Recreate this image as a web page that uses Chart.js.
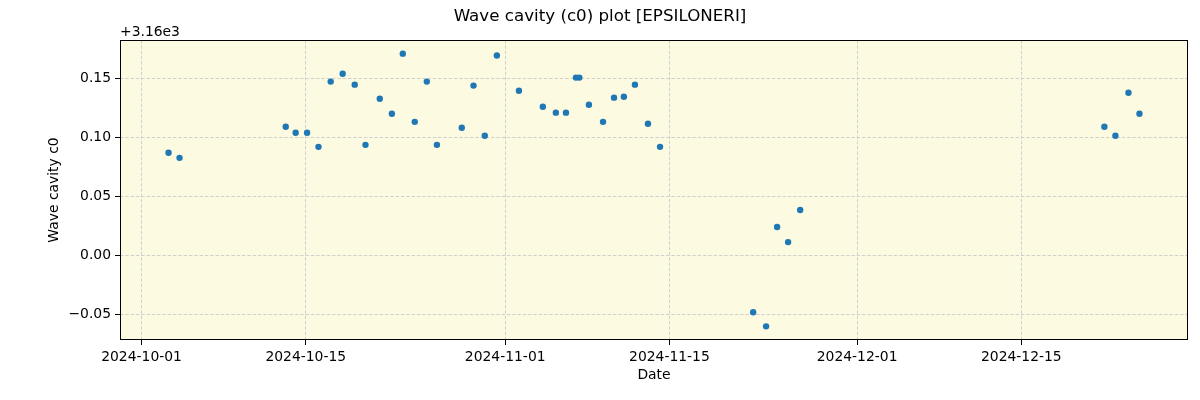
<!DOCTYPE html>
<html>
<head>
<meta charset="utf-8">
<script src="https://cdn.jsdelivr.net/npm/chart.js@4"></script>
<style>
  html, body { margin: 0; padding: 0; background: #fff; }
  #wrap { width: 1200px; height: 400px; }
</style>
</head>
<body>
<div id="wrap"><canvas id="c0Chart" width="1200" height="400"></canvas></div>
<script>
// observation times (UTC) and c0 values, shown as offset from 3.16e3
const obsDates = [
  "2024-10-03T07:15Z", "2024-10-04T05:45Z", "2024-10-13T07:00Z", "2024-10-14T03:20Z",
  "2024-10-15T02:40Z", "2024-10-16T02:00Z", "2024-10-17T03:00Z", "2024-10-18T03:30Z",
  "2024-10-19T04:10Z", "2024-10-20T02:10Z", "2024-10-21T07:25Z", "2024-10-22T08:10Z",
  "2024-10-23T06:30Z", "2024-10-24T07:00Z", "2024-10-25T07:40Z", "2024-10-26T04:20Z",
  "2024-10-28T07:10Z", "2024-10-29T07:10Z", "2024-10-30T06:15Z", "2024-10-31T07:00Z",
  "2024-11-02T04:05Z", "2024-11-04T05:00Z", "2024-11-05T07:40Z", "2024-11-06T04:20Z",
  "2024-11-07T00:45Z", "2024-11-07T07:40Z", "2024-11-08T03:20Z", "2024-11-09T08:10Z",
  "2024-11-10T06:40Z", "2024-11-11T02:50Z", "2024-11-12T01:25Z", "2024-11-13T04:05Z",
  "2024-11-14T04:50Z", "2024-11-22T03:20Z", "2024-11-23T05:45Z", "2024-11-24T04:20Z",
  "2024-11-25T02:50Z", "2024-11-26T03:35Z", "2024-12-22T01:55Z", "2024-12-23T00:30Z",
  "2024-12-24T03:10Z", "2024-12-25T01:40Z"
];
const c0Offset = [
  0.0867, 0.0824, 0.1087, 0.1037,
  0.1037, 0.0917, 0.1470, 0.1537,
  0.1444, 0.0934, 0.1325, 0.1197,
  0.1707, 0.1129, 0.1470, 0.0934,
  0.1079, 0.1436, 0.1011, 0.1691,
  0.1393, 0.1257, 0.1207, 0.1207,
  0.1504, 0.1504, 0.1274, 0.1129,
  0.1334, 0.1342, 0.1444, 0.1113,
  0.0917, -0.0485, -0.0604, 0.0238,
  0.0110, 0.0382, 0.1087, 0.1011,
  0.1376, 0.1197
];
const offsetLabel = "+3.16e3";
const xTickLabels = ["2024-10-01", "2024-10-15", "2024-11-01", "2024-11-15", "2024-12-01", "2024-12-15"];
const yTickValues = [-0.05, 0.00, 0.05, 0.10, 0.15];

const DAY = 86400000;
const origin = Date.parse("2024-10-01T00:00Z");
const toDay = s => (Date.parse(s) - origin) / DAY;

const points = obsDates.map((d, i) => ({ x: toDay(d), y: c0Offset[i] }));
const xTickPos = xTickLabels.map(s => toDay(s + "T00:00Z"));

// matplotlib-like 5% margins
const xs = points.map(p => p.x), ys = points.map(p => p.y);
const xPad = (Math.max(...xs) - Math.min(...xs)) * 0.05;
const yPad = (Math.max(...ys) - Math.min(...ys)) * 0.05;

const FONT = "'DejaVu Sans', sans-serif";
const tickFont = { family: FONT, size: 13.9 };

const framePlugin = {
  id: "frame",
  beforeDraw(chart) {
    const { ctx, chartArea: a } = chart;
    ctx.save();
    ctx.fillStyle = "#ffffff";
    ctx.fillRect(0, 0, chart.width, chart.height);
    ctx.fillStyle = "#fcfbe2";
    ctx.fillRect(a.left, a.top, a.right - a.left, a.bottom - a.top);
    ctx.restore();
  },
  afterDraw(chart) {
    const { ctx, chartArea: a } = chart;
    ctx.save();
    ctx.strokeStyle = "#000";
    ctx.lineWidth = 1;
    ctx.strokeRect(Math.round(a.left) + 0.5, Math.round(a.top) + 0.5,
      Math.round(a.right - a.left) - 1, Math.round(a.bottom - a.top) - 1);
    ctx.fillStyle = "#000";
    ctx.font = "16.7px " + FONT;
    ctx.textAlign = "center";
    ctx.textBaseline = "middle";
    ctx.fillText("Wave cavity (c0) plot [EPSILONERI]", 600, 16.5);
    ctx.font = "13.9px " + FONT;
    ctx.fillText("Date", (a.left + a.right) / 2, 375);
    ctx.save();
    ctx.translate(54, (a.top + a.bottom) / 2);
    ctx.rotate(-Math.PI / 2);
    ctx.fillText("Wave cavity c0", 0, 0);
    ctx.restore();
    ctx.textAlign = "left";
    ctx.textBaseline = "bottom";
    ctx.fillText(offsetLabel, a.left, a.top - 1);
    ctx.restore();
  }
};

new Chart(document.getElementById("c0Chart"), {
  type: "scatter",
  data: {
    datasets: [{
      data: points,
      backgroundColor: "#1f77b4",
      borderColor: "#1f77b4",
      pointRadius: 3.2,
      pointHoverRadius: 3.2,
      borderWidth: 0
    }]
  },
  options: {
    responsive: false,
    animation: false,
    devicePixelRatio: 1,
    layout: { padding: { left: 0, right: 12, top: 40, bottom: 0 } },
    plugins: { legend: { display: false }, tooltip: { enabled: false }, title: { display: false } },
    scales: {
      x: {
        type: "linear",
        min: Math.min(...xs) - xPad,
        max: Math.max(...xs) + xPad,
        afterBuildTicks: s => { s.ticks = xTickPos.map(v => ({ value: v })); },
        afterFit: s => { s.height = 60; },
        ticks: {
          font: tickFont, color: "#000", padding: 4, maxRotation: 0, autoSkip: false,
          callback: (v, i) => xTickLabels[i]
        },
        grid: { color: "#d0d0d0", tickColor: "#000", tickLength: 5, tickWidth: 1, tickBorderDash: [] },
        border: { display: false, dash: [3.5, 1.8] }
      },
      y: {
        min: Math.min(...ys) - yPad,
        max: Math.max(...ys) + yPad,
        afterBuildTicks: s => { s.ticks = yTickValues.map(v => ({ value: v })); },
        afterFit: s => { s.width = 120; },
        ticks: {
          font: tickFont, color: "#000", padding: 4,
          callback: v => v.toFixed(2).replace("-", "\u2212")
        },
        grid: { color: "#d0d0d0", tickColor: "#000", tickLength: 5, tickWidth: 1, tickBorderDash: [] },
        border: { display: false, dash: [3.5, 1.8] }
      }
    }
  },
  plugins: [framePlugin]
});
</script>
</body>
</html>
